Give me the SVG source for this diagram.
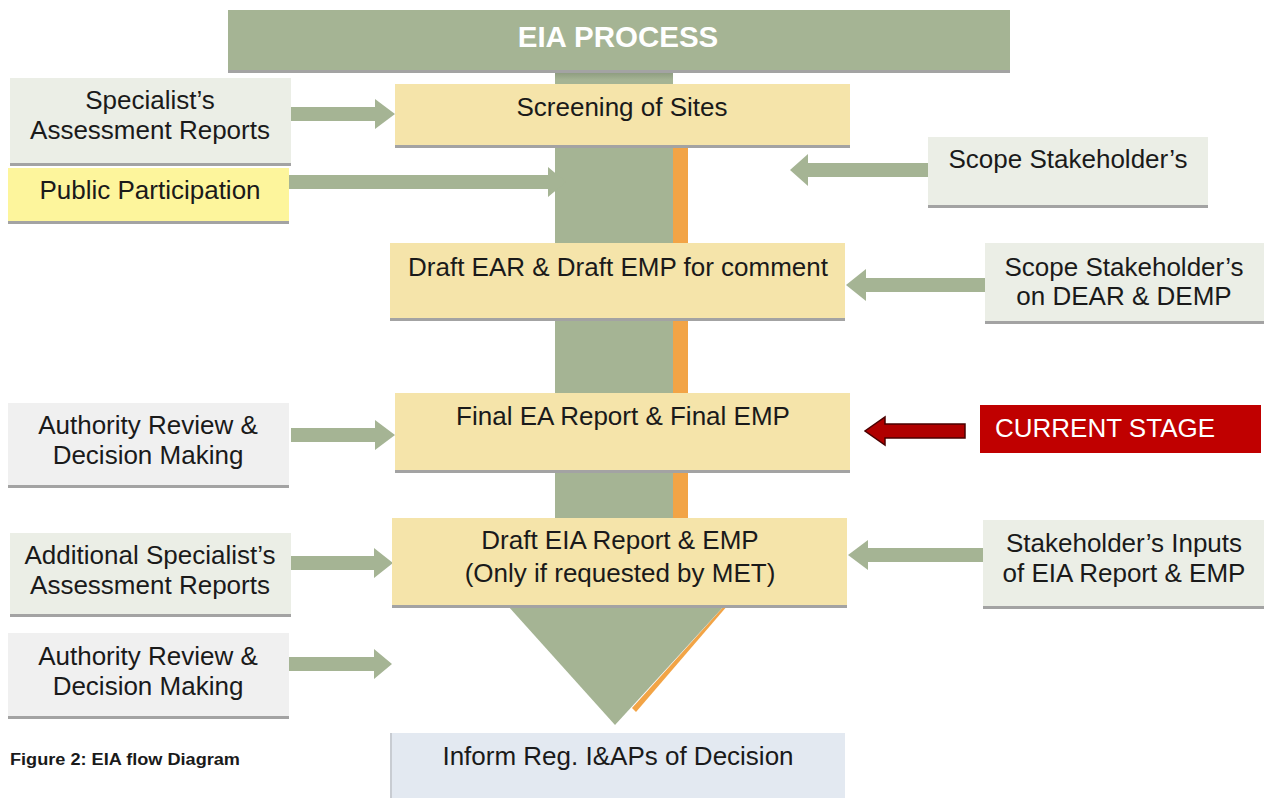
<svg xmlns="http://www.w3.org/2000/svg" width="1264" height="798" viewBox="0 0 1264 798">
<style>
.t{font-family:"Liberation Sans",Arial,sans-serif;font-size:26px;fill:#1a1a1a;text-anchor:middle}
.sh{fill:#a3a3a3}
.beige{fill:#f5e4aa}
.grey{fill:#ebeee6}
.lgrey{fill:#f0f0f0}
.arr{fill:#a5b494}
</style>
<defs>
<linearGradient id="topsh" x1="0" y1="0" x2="0" y2="1">
<stop offset="0" stop-color="#7f8d72"/>
<stop offset="1" stop-color="#a5b494"/>
</linearGradient>
</defs>
<rect width="1264" height="798" fill="#ffffff"/>

<g id="trunk">
<rect x="673" y="140" width="15" height="385" fill="#f2a446"/>
<polygon points="725,605 728,605 636,712 632,708" fill="#f2a446"/>
<rect x="555" y="68" width="118" height="540" fill="#a5b494"/>
<rect x="555" y="68" width="118" height="12" fill="url(#topsh)"/>
<polygon points="507,605 725,605 615,725" fill="#a5b494"/>
</g>

<g id="header">
<rect x="228" y="13" width="782" height="60" class="sh"/>
<rect x="228" y="10" width="782" height="60" fill="#a5b494"/>
<text x="618" y="47" style="font-family:'Liberation Sans',Arial,sans-serif;font-size:29.5px;font-weight:bold;fill:#ffffff;text-anchor:middle">EIA PROCESS</text>
</g>

<g id="connectors">
<polygon class="arr" points="291,107 375,107 375,99 395,114 375,129 375,121 291,121"/>
<polygon class="arr" points="289,175 548,175 548,167 566,182 548,197 548,189 289,189"/>
<polygon class="arr" points="928,163 808,163 808,154 790,170 808,186 808,177 928,177"/>
<polygon class="arr" points="985,278 866,278 866,269 846,285 866,301 866,292 985,292"/>
<polygon class="arr" points="291,428 375,428 375,420 395,435 375,450 375,442 291,442"/>
<polygon points="965,424 885,424 885,417 865,431 885,445 885,438 965,438" fill="#b00000" stroke="#4a0000" stroke-width="1.5"/>
<polygon class="arr" points="291,556 374,556 374,548 393,563 374,578 374,570 291,570"/>
<polygon class="arr" points="983,548 868,548 868,540 848,555 868,570 868,562 983,562"/>
<polygon class="arr" points="289,657 374,657 374,649 392,664 374,679 374,671 289,671"/>
</g>

<g id="screening">
<rect x="395" y="87" width="455" height="61" class="sh"/>
<rect x="395" y="84" width="455" height="61" class="beige"/>
<text class="t" x="622" y="116">Screening of Sites</text>
</g>

<g id="draft-ear">
<rect x="390" y="246" width="455" height="75" class="sh"/>
<rect x="390" y="243" width="455" height="75" class="beige"/>
<text class="t" x="618" y="276">Draft EAR &amp; Draft EMP for comment</text>
</g>

<g id="final-ea">
<rect x="395" y="396" width="455" height="77" class="sh"/>
<rect x="395" y="393" width="455" height="77" class="beige"/>
<text class="t" x="623" y="425">Final EA Report &amp; Final EMP</text>
</g>

<g id="draft-eia">
<rect x="392" y="521" width="455" height="87" class="sh"/>
<rect x="392" y="518" width="455" height="87" class="beige"/>
<text class="t" x="620" y="549">Draft EIA Report &amp; EMP</text>
<text class="t" x="620" y="582">(Only if requested by MET)</text>
</g>

<g id="inform">
<rect x="390" y="733" width="455" height="65" fill="#e3e9f1"/>
<rect x="390" y="733" width="2" height="65" fill="#c8ccd2"/>
<text class="t" x="618" y="765">Inform Reg. I&amp;APs of Decision</text>
</g>

<g id="specialist">
<rect x="10" y="81" width="281" height="85" class="sh"/>
<rect x="10" y="78" width="281" height="85" class="grey"/>
<text class="t" x="150" y="109">Specialist’s</text>
<text class="t" x="150" y="139">Assessment Reports</text>
</g>

<g id="public">
<rect x="8" y="171" width="281" height="53" class="sh"/>
<rect x="8" y="168" width="281" height="53" fill="#fdf59c"/>
<text class="t" x="150" y="199">Public Participation</text>
</g>

<g id="authority1">
<rect x="8" y="406" width="281" height="82" class="sh"/>
<rect x="8" y="403" width="281" height="82" class="lgrey"/>
<text class="t" x="148" y="434">Authority Review &amp;</text>
<text class="t" x="148" y="464">Decision Making</text>
</g>

<g id="additional">
<rect x="10" y="536" width="281" height="81" class="sh"/>
<rect x="10" y="533" width="281" height="81" class="grey"/>
<text class="t" x="150" y="564">Additional Specialist’s</text>
<text class="t" x="150" y="594">Assessment Reports</text>
</g>

<g id="authority2">
<rect x="8" y="636" width="281" height="83" class="sh"/>
<rect x="8" y="633" width="281" height="83" class="lgrey"/>
<text class="t" x="148" y="665">Authority Review &amp;</text>
<text class="t" x="148" y="695">Decision Making</text>
</g>

<g id="scope1">
<rect x="928" y="140" width="280" height="68" class="sh"/>
<rect x="928" y="137" width="280" height="68" class="grey"/>
<text class="t" x="1068" y="168">Scope Stakeholder’s</text>
</g>

<g id="scope2">
<rect x="985" y="246" width="279" height="78" class="sh"/>
<rect x="985" y="243" width="279" height="78" class="grey"/>
<text class="t" x="1124" y="276">Scope Stakeholder’s</text>
<text class="t" x="1124" y="305">on DEAR &amp; DEMP</text>
</g>

<g id="current">
<rect x="980" y="405" width="281" height="48" fill="#c00000"/>
<text x="995" y="437" style="font-family:'Liberation Sans',Arial,sans-serif;font-size:26px;fill:#ffffff">CURRENT STAGE</text>
</g>

<g id="inputs">
<rect x="983" y="523" width="281" height="86" class="sh"/>
<rect x="983" y="520" width="281" height="86" class="grey"/>
<text class="t" x="1124" y="552">Stakeholder’s Inputs</text>
<text class="t" x="1124" y="582">of EIA Report &amp; EMP</text>
</g>

<text x="10" y="765" textLength="230" lengthAdjust="spacingAndGlyphs" style="font-family:'Liberation Sans',Arial,sans-serif;font-size:16px;font-weight:bold;fill:#1a1a1a">Figure 2: EIA flow Diagram</text>
</svg>
